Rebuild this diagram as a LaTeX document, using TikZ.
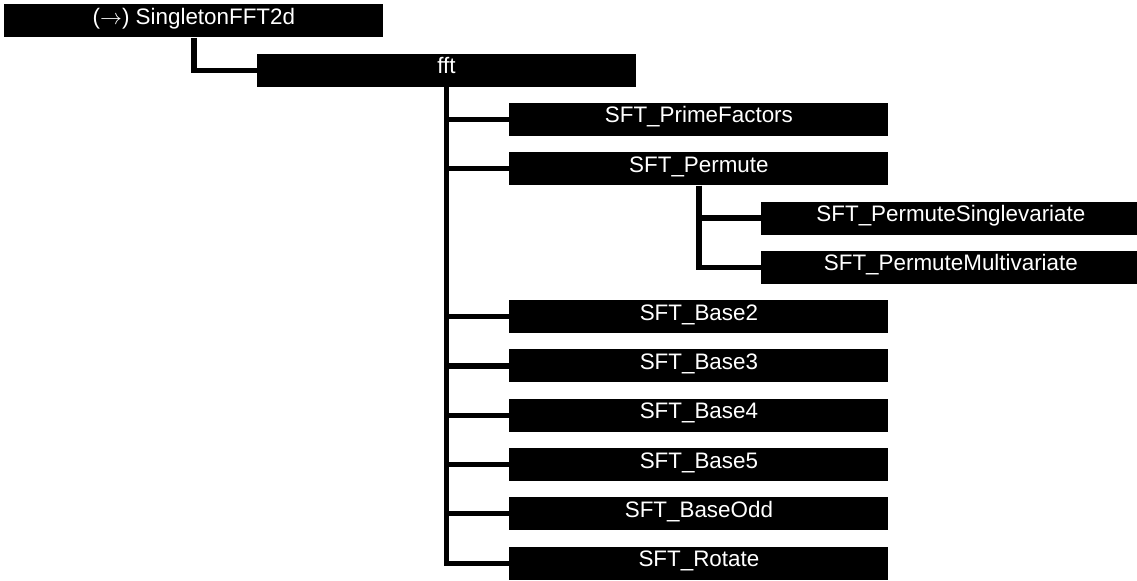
\documentclass[tikz,border=0pt]{standalone}
\usepackage{fontspec}
\setmainfont{Liberation Sans}
\usepackage{tikz}
\usetikzlibrary{positioning}
\tikzset{
    treebox/.style={
        fill=black,
        text=white,
        anchor=north west,
        inner sep=0pt,
        minimum width=189.5pt,
        text height=10pt,
        text depth=6.5pt,
        font=\fontsize{11.2}{13}\selectfont
    },
    treeline/.style={
        line width=2.6pt,
        black
    }
}
\begin{document}
\begin{tikzpicture}[x=0.5pt, y=-0.5pt]
        \useasboundingbox (0,0) rectangle (1137,581);

        \node[treebox] (root) at (4,4) {($\rightarrow$) SingletonFFT2d};
        \node[treebox] (fft) at (256.5,53.3) {fft};
        \node[treebox] (prime) at (509,102.6) {SFT\_PrimeFactors};
        \node[treebox] (permute) at (509,151.9) {SFT\_Permute};
        \node[treebox] (single) at (761,201.2) {SFT\_PermuteSinglevariate};
        \node[treebox] (multi) at (761,250.5) {SFT\_PermuteMultivariate};
        \node[treebox] (base2) at (509,299.8) {SFT\_Base2};
        \node[treebox] (base3) at (509,349.1) {SFT\_Base3};
        \node[treebox] (base4) at (509,398.4) {SFT\_Base4};
        \node[treebox] (base5) at (509,447.7) {SFT\_Base5};
        \node[treebox] (baseodd) at (509,497) {SFT\_BaseOdd};
        \node[treebox] (rotate) at (509,546.3) {SFT\_Rotate};

        \draw[treeline] (root.south) |- (fft.west);
        \draw[treeline] (fft.south) |- (prime.west);
        \draw[treeline] (fft.south) |- (permute.west);
        \draw[treeline] (fft.south) |- (base2.west);
        \draw[treeline] (fft.south) |- (base3.west);
        \draw[treeline] (fft.south) |- (base4.west);
        \draw[treeline] (fft.south) |- (base5.west);
        \draw[treeline] (fft.south) |- (baseodd.west);
        \draw[treeline] (fft.south) |- (rotate.west);
        \draw[treeline] (permute.south) |- (single.west);
        \draw[treeline] (permute.south) |- (multi.west);
\end{tikzpicture}
\end{document}
